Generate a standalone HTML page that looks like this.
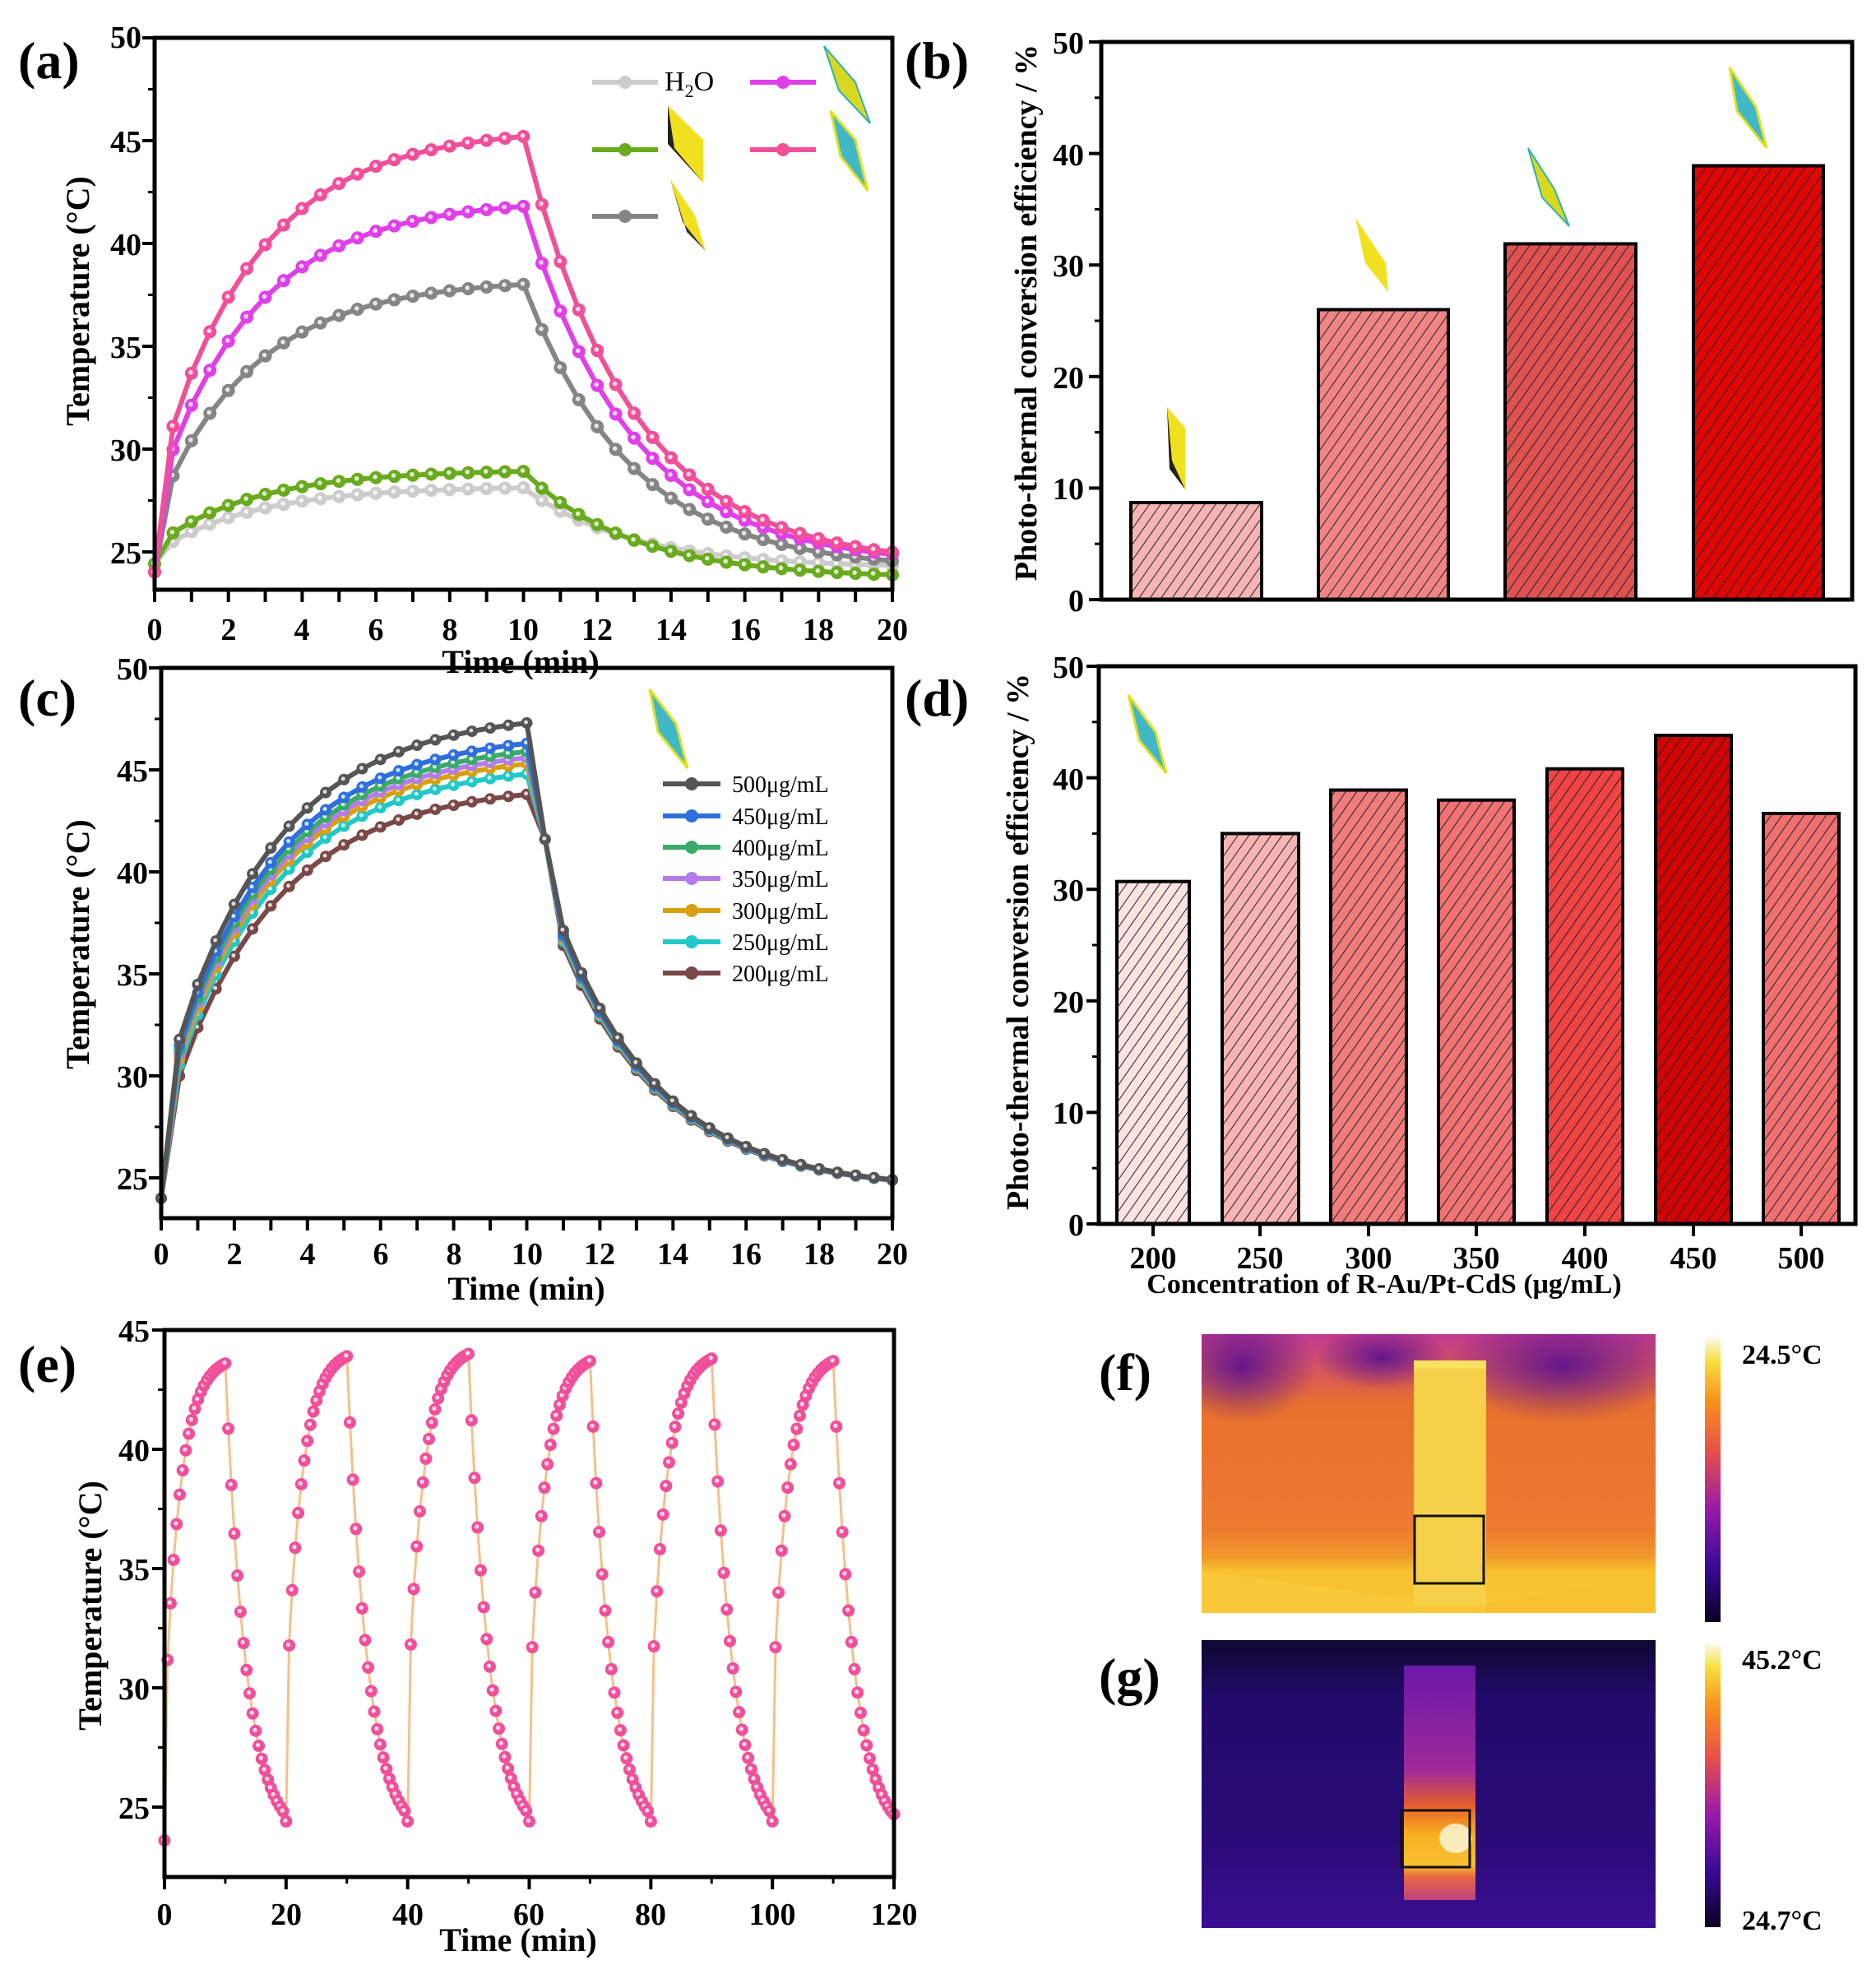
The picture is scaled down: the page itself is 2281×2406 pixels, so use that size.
<!DOCTYPE html>
<html><head><meta charset="utf-8">
<style>
html,body{margin:0;padding:0;background:#fff;}
svg{display:block;font-family:"Liberation Serif",serif;font-weight:bold;}
</style></head>
<body>
<svg id="s" width="2281" height="2406" viewBox="0 0 2281 2406" xmlns="http://www.w3.org/2000/svg">
<defs>
<pattern id="hatch" width="11" height="11" patternUnits="userSpaceOnUse" patternTransform="rotate(35)">
<line x1="0" y1="0" x2="0" y2="11" stroke="#222" stroke-width="2"/>
</pattern>
<clipPath id="fclip"><rect x="1461" y="1622" width="552" height="339"/></clipPath>
<linearGradient id="cbar" x1="0" y1="1" x2="0" y2="0">
<stop offset="0" stop-color="#0a0020"/><stop offset="0.2" stop-color="#3a0a9a"/><stop offset="0.4" stop-color="#9a1aa8"/><stop offset="0.6" stop-color="#e8504a"/><stop offset="0.78" stop-color="#f8901a"/><stop offset="0.92" stop-color="#f8e040"/><stop offset="1" stop-color="#fafae8"/>
</linearGradient>
<linearGradient id="fbg" x1="0" y1="0" x2="0" y2="1">
<stop offset="0" stop-color="#c03a90"/><stop offset="0.25" stop-color="#e8702e"/><stop offset="0.7" stop-color="#ee7a30"/><stop offset="0.8" stop-color="#f09a2a"/><stop offset="0.85" stop-color="#f8c030"/><stop offset="1" stop-color="#f8c838"/>
</linearGradient>
<radialGradient id="fcorner" cx="0.5" cy="0.5" r="0.5"><stop offset="0" stop-color="#5a1090" stop-opacity="0.9"/><stop offset="1" stop-color="#5a1090" stop-opacity="0"/></radialGradient>
<linearGradient id="gbg" x1="0" y1="0" x2="0" y2="1">
<stop offset="0" stop-color="#0e0830"/><stop offset="0.2" stop-color="#220a6a"/><stop offset="0.7" stop-color="#2a0c78"/><stop offset="1" stop-color="#3a0e92"/>
</linearGradient>
<linearGradient id="gcol" x1="0" y1="0" x2="0" y2="1">
<stop offset="0" stop-color="#6a18a8"/><stop offset="0.45" stop-color="#a02a98"/><stop offset="0.6" stop-color="#e8602a"/><stop offset="0.72" stop-color="#f8b020"/><stop offset="0.85" stop-color="#f8c030"/><stop offset="0.9" stop-color="#e86a40"/><stop offset="1" stop-color="#c04080"/>
</linearGradient>
</defs>
<g id="plots"></g>

<g font-size="64">
<text x="22" y="95">(a)</text>
<text x="1100" y="95">(b)</text>
<text x="22" y="870">(c)</text>
<text x="1100" y="870">(d)</text>
<text x="22" y="1680">(e)</text>
<text x="1336" y="1690">(f)</text>
<text x="1336" y="2060">(g)</text>
</g>

<g font-size="38" text-anchor="middle">
<text x="188" y="778">0</text><text x="278" y="778">2</text><text x="367" y="778">4</text><text x="457" y="778">6</text><text x="547" y="778">8</text><text x="636" y="778">10</text><text x="726" y="778">12</text><text x="816" y="778">14</text><text x="906" y="778">16</text><text x="995" y="778">18</text><text x="1085" y="778">20</text>
<text x="196" y="1537">0</text><text x="285" y="1537">2</text><text x="374" y="1537">4</text><text x="463" y="1537">6</text><text x="552" y="1537">8</text><text x="641" y="1537">10</text><text x="729" y="1537">12</text><text x="818" y="1537">14</text><text x="907" y="1537">16</text><text x="996" y="1537">18</text><text x="1085" y="1537">20</text>
<text x="200" y="2340">0</text><text x="348" y="2340">20</text><text x="496" y="2340">40</text><text x="643" y="2340">60</text><text x="791" y="2340">80</text><text x="939" y="2340">100</text><text x="1087" y="2340">120</text>
<text x="1402" y="1542">200</text><text x="1532" y="1542">250</text><text x="1664" y="1542">300</text><text x="1795" y="1542">350</text><text x="1927" y="1542">400</text><text x="2059" y="1542">450</text><text x="2190" y="1542">500</text>
</g>
<g font-size="38" text-anchor="end">
<text x="172" y="58">50</text><text x="172" y="185">45</text><text x="172" y="310">40</text><text x="172" y="435">35</text><text x="172" y="560">30</text><text x="172" y="685">25</text>
<text x="180" y="826">50</text><text x="180" y="950">45</text><text x="180" y="1074">40</text><text x="180" y="1198">35</text><text x="180" y="1322">30</text><text x="180" y="1446">25</text>
<text x="182" y="1631">45</text><text x="182" y="1776">40</text><text x="182" y="1921">35</text><text x="182" y="2066">30</text><text x="182" y="2211">25</text>
<text x="1318" y="65">50</text><text x="1318" y="201">40</text><text x="1318" y="336">30</text><text x="1318" y="472">20</text><text x="1318" y="607">10</text><text x="1318" y="743">0</text>
<text x="1318" y="824">50</text><text x="1318" y="960">40</text><text x="1318" y="1095">30</text><text x="1318" y="1231">20</text><text x="1318" y="1366">10</text><text x="1318" y="1502">0</text>
</g>

<g font-size="40" text-anchor="middle">
<text x="633" y="818">Time (min)</text>
<text x="640" y="1580">Time (min)</text>
<text x="630" y="2372">Time (min)</text>
<text transform="translate(108,366) rotate(-90)">Temperature (°C)</text>
<text transform="translate(108,1148) rotate(-90)">Temperature (°C)</text>
<text transform="translate(123,1952) rotate(-90)">Temperature (°C)</text>
<text transform="translate(1260,380) rotate(-90)" font-size="38">Photo-thermal conversion efficiency / %</text>
<text transform="translate(1250,1145) rotate(-90)" font-size="38">Photo-thermal conversion efficiency / %</text>
</g>
<text x="1683" y="1572" font-size="34" text-anchor="middle">Concentration of R-Au/Pt-CdS (μg/mL)</text>

<text x="808" y="110" font-size="34" style="font-weight:normal">H<tspan font-size="22" dy="8">2</tspan><tspan dy="-8">O</tspan></text>
<g font-size="28" style="font-weight:normal">
<text x="890" y="963">500μg/mL</text><text x="890" y="1002">450μg/mL</text><text x="890" y="1040">400μg/mL</text><text x="890" y="1078">350μg/mL</text><text x="890" y="1117">300μg/mL</text><text x="890" y="1155">250μg/mL</text><text x="890" y="1193">200μg/mL</text>
</g>

<g>
<g clip-path="url(#fclip)">
<rect x="1461" y="1622" width="552" height="339" fill="url(#fbg)"/>
<ellipse cx="1510" cy="1660" rx="90" ry="70" fill="url(#fcorner)"/>
<ellipse cx="1680" cy="1650" rx="80" ry="40" fill="url(#fcorner)"/>
<ellipse cx="1900" cy="1660" rx="140" ry="70" fill="url(#fcorner)"/>
<polygon points="1461,1910 1720,1945 1720,1961 1461,1961" fill="#f8c838"/>
<polygon points="2013,1915 1807,1950 1807,1961 2013,1961" fill="#f6c030"/>
<rect x="1719" y="1654" width="88" height="298" fill="#f6d048"/>
<rect x="1719" y="1654" width="88" height="10" fill="#f8e060"/>
</g>
<rect x="1720" y="1843" width="84" height="82" fill="none" stroke="#111" stroke-width="3"/>
<rect x="2073" y="1627" width="19" height="345" fill="url(#cbar)"/>
<rect x="1461" y="1994" width="552" height="350" fill="url(#gbg)"/>
<rect x="1707" y="2025" width="87" height="285" fill="url(#gcol)"/>
<ellipse cx="1770" cy="2235" rx="20" ry="18" fill="#fafae0" opacity="0.8"/>
<rect x="1704" y="2201" width="83" height="69" fill="none" stroke="#111" stroke-width="3"/>
<rect x="2073" y="1999" width="19" height="344" fill="url(#cbar)"/>
<g font-size="34"><text x="2118" y="1658">24.5°C</text><text x="2118" y="2029">45.2°C</text><text x="2118" y="2346">24.7°C</text></g>
</g>
</svg>
<script>
var NS="http://www.w3.org/2000/svg",G=document.getElementById("plots");
function el(n,a,p){var e=document.createElementNS(NS,n);for(var k in a)e.setAttribute(k,a[k]);(p||G).appendChild(e);return e;}
function frame(x0,y0,x1,y1){el("rect",{x:x0,y:y0,width:x1-x0,height:y1-y0,fill:"none",stroke:"#000","stroke-width":5});}
function xt(x0,x1,y,n,minor){for(var i=0;i<=n;i++){var x=x0+(x1-x0)*i/n;el("line",{x1:x,y1:y,x2:x,y2:y+15,stroke:"#000","stroke-width":4});if(minor&&i<n){var xm=x+(x1-x0)/n/2;el("line",{x1:xm,y1:y,x2:xm,y2:y+8,stroke:"#000","stroke-width":3});}}}
function yt(x,y0,y1,n,minor){for(var i=0;i<=n;i++){var y=y0+(y1-y0)*i/n;el("line",{x1:x,y1:y,x2:x-15,y2:y,stroke:"#000","stroke-width":4});if(minor&&i<n){var ym=y+(y1-y0)/n/2;el("line",{x1:x,y1:ym,x2:x-8,y2:ym,stroke:"#000","stroke-width":3});}}}
function heat(t,T0,Tp,j,tau){var f=function(s){return j*(1-Math.exp(-s/0.15))+(1-j)*(1-Math.exp(-s/tau));};return T0+(Tp-T0)*f(t)/f(10);}
function cool(t,Tp,Ti,tau){return Ti+(Tp-Ti)*Math.exp(-(t-10)/tau);}
function series(X,Y,pts,col,lw,mr,mcol,lcol){var d="";pts.forEach(function(p,i){d+=(i?"L":"M")+X(p[0]).toFixed(1)+" "+Y(p[1]).toFixed(1);});
el("path",{d:d,fill:"none",stroke:lcol||col,"stroke-width":lw,"stroke-linejoin":"round"});
pts.forEach(function(p){el("circle",{cx:X(p[0]),cy:Y(p[1]),r:mr,fill:mcol||col});el("circle",{cx:X(p[0])-1,cy:Y(p[1])-1,r:mr*0.35,fill:"#fff",opacity:0.8});});}
(function(){var X=function(t){return 188+t*44.85},Y=function(T){return 46+(50-T)*24.98};
var S=[["#cccccc",24.4,28.1,24.2,0.15],["#6aaa1e",24.4,28.9,23.7,0.2],["#858585",24,38,24.1,0.2],["#e040e8",24,41.8,24.3,0.2],["#f0509a",24,45.2,24.3,0.2]];
S.forEach(function(s){var p=[];for(var t=0;t<=20.001;t+=0.5){p.push([t,t<=10?heat(t,s[1],s[2],s[4],2.7):cool(t,s[2],s[3],2.9)]);}series(X,Y,p,s[0],6,8);});
frame(188,46,1085,717);xt(188,1085,717,20,false);yt(188,46,671,5,true);
el("line",{x1:720,y1:100,x2:800,y2:100,stroke:"#cccccc","stroke-width":6});el("circle",{cx:760,cy:100,r:8,fill:"#ccc"});
[[182,"#6aaa1e",720],[263,"#858585",720],[100,"#e040e8",912],[182,"#f0509a",912]].forEach(function(l){el("line",{x1:l[2],y1:l[0],x2:l[2]+80,y2:l[0],stroke:l[1],"stroke-width":6});el("circle",{cx:l[2]+40,cy:l[0],r:8,fill:l[1]});});
el("polygon",{points:"812,128 855,170 855,222 812,175",fill:"#f0e020"});el("polygon",{points:"812,128 820,180 855,222 812,175",fill:"#222"});
el("polygon",{points:"815,218 845,262 858,305 830,270",fill:"#f0e020"});el("polygon",{points:"815,218 830,270 858,305 835,282",fill:"#333"});
el("polygon",{points:"1002,56 1040,100 1058,150 1020,110",fill:"#d8d820",stroke:"#30b0b0","stroke-width":2});
el("polygon",{points:"1010,135 1040,170 1055,232 1022,190",fill:"#40b8c8",stroke:"#e0e020","stroke-width":3});
})();
(function(){var Y=function(v){return 729-v*13.56};
[[1375,1534,8.7,"#f6b4b4"],[1603,1761,26,"#f08484"],[1830,1989,31.9,"#e05252"],[2059,2217,38.9,"#e00606"]].forEach(function(b){el("rect",{x:b[0],y:Y(b[2]),width:b[1]-b[0],height:729-Y(b[2]),fill:b[3]});el("rect",{x:b[0],y:Y(b[2]),width:b[1]-b[0],height:729-Y(b[2]),fill:"url(#hatch)",stroke:"#000","stroke-width":4});});
frame(1339,51,2252,729);yt(1339,51,729,5,true);
el("polygon",{points:"1419,495 1441,520 1441,595 1422,570",fill:"#f0e020"});el("polygon",{points:"1419,495 1422,570 1441,595 1425,560",fill:"#222"});
el("polygon",{points:"1648,265 1685,320 1688,355 1660,320",fill:"#f0e020"});
el("polygon",{points:"1858,180 1890,230 1908,275 1875,240",fill:"#d8d820",stroke:"#30b0b0","stroke-width":2});
el("polygon",{points:"2103,82 2135,130 2148,180 2112,135",fill:"#40b8c8",stroke:"#e0e020","stroke-width":3});
})();
(function(){var X=function(t){return 196+t*44.45},Y=function(T){return 812+(50-T)*24.8};
var S=[["#7a4848",43.8,30.1],["#22c8c8",44.8,30.9],["#d8a010",45.3,31.4],["#b47ce8",45.6,31.8],["#3aaa6a",45.9,32.1],["#2f6fdc",46.3,32.5],["#555555",47.3,32.8]];
S.forEach(function(s){var p=[];for(var t=0;t<=20.001;t+=0.5){p.push([t,t<=10?heat(t,24,s[1],(s[2]-24)/(s[1]-24)*0.55,2.9):cool(t,41.6+(s[1]-44)*0.3,24.4,2.8)]);}p[21]=[10.5,41.6];series(X,Y,p,s[0],6,7);});
frame(196,812,1085,1481);xt(196,1085,1481,20,false);yt(196,812,1432,5,true);
var lg=[[953,"#555555"],[992,"#2f6fdc"],[1030,"#3aaa6a"],[1068,"#b47ce8"],[1107,"#d8a010"],[1145,"#22c8c8"],[1183,"#7a4848"]];
lg.forEach(function(l){el("line",{x1:806,y1:l[0],x2:876,y2:l[0],stroke:l[1],"stroke-width":6});el("circle",{cx:841,cy:l[0],r:8,fill:l[1]});});
el("polygon",{points:"790,838 822,880 836,934 800,890",fill:"#40b8c8",stroke:"#e0e020","stroke-width":3});
})();
(function(){var Y=function(v){return 1488-v*13.56};
[[1358,1446,30.7,"#fde2e2"],[1486,1579,35,"#f8b4b4"],[1618,1710,38.9,"#f07c7c"],[1749,1841,38,"#f07272"],[1881,1973,40.8,"#f04444"],[2013,2105,43.8,"#d20404"],[2144,2236,36.8,"#f07070"]].forEach(function(b){el("rect",{x:b[0],y:Y(b[2]),width:b[1]-b[0],height:1488-Y(b[2]),fill:b[3]});el("rect",{x:b[0],y:Y(b[2]),width:b[1]-b[0],height:1488-Y(b[2]),fill:"url(#hatch)",stroke:"#000","stroke-width":4});});
frame(1336,810,2256,1488);yt(1336,810,1488,5,true);
[1402,1532,1664,1795,1927,2059,2190].forEach(function(x){el("line",{x1:x,y1:1488,x2:x,y2:1503,stroke:"#000","stroke-width":4});});
el("polygon",{points:"1372,845 1405,890 1418,940 1385,900",fill:"#40b8c8",stroke:"#e0e020","stroke-width":3});
})();
(function(){var X=function(t){return 200+t*7.392},Y=function(T){return 1617+(45-T)*29};
var p=[];var pk=[43.6,43.9,44,43.7,43.8,43.7];
for(var c=0;c<6;c++){var T0=c==0?23.6:24.4;for(var s=0;s<20;s+=0.5){var t=c*20+s;if(c==0&&s==0){p.push([0,23.6]);continue;}
var v=s<=10?(s==0?T0:heat(s,T0,pk[c],0.25,2.6)):cool(s,pk[c],23.6,3.4);p.push([t,v]);}}
p.push([120,24.7]);
series(X,Y,p,"#f0509a",3,7.5,"#f0509a","#f5c08a");
frame(200,1617,1087,2282);xt(200,1087,2282,6,true);yt(200,1617,2197,4,true);
})();
</script>
</body></html>
